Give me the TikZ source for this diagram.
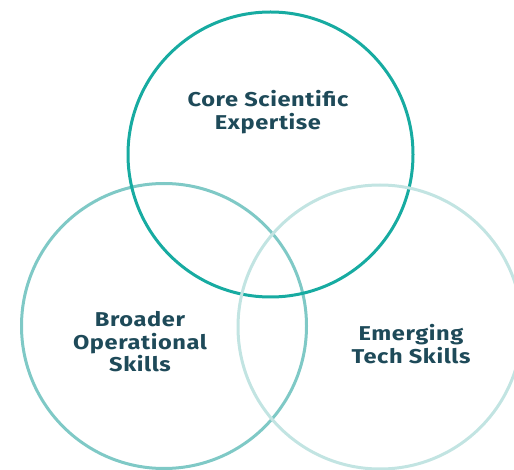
\documentclass[tikz,border=0pt]{standalone}
\usepackage{fontspec}
\setmainfont{Fira Sans}[FakeStretch=1.18, LetterSpace=3]
\definecolor{cteal}{HTML}{17ABA1}
\definecolor{cmid}{HTML}{7FC9C6}
\definecolor{clight}{HTML}{C2E4E2}
\definecolor{ctext}{HTML}{1E4A59}
\begin{document}
\begin{tikzpicture}[x=1pt,y=-1pt,
  ring/.style={line width=3pt},
  lbl/.style={text=ctext, font=\fontsize{20}{22.5}\selectfont\bfseries, align=center, inner sep=0pt}]
\useasboundingbox (0,0) rectangle (514,470);
\clip (0,0) rectangle (514,470);
\draw[ring, cmid] (164,326) circle (142.5);
\draw[ring, cteal] (270.5,154.5) circle (142.5);
\draw[ring, clight] (380,327) circle (142);
\node[lbl] (core) at (268,112) {Core Scientific\\Expertise};
\node[lbl] (broad) at (140,342) {Broader\\Operational\\Skills};
\node[lbl] (emerg) at (411,344) {Emerging\\Tech Skills};
\end{tikzpicture}
\end{document}
